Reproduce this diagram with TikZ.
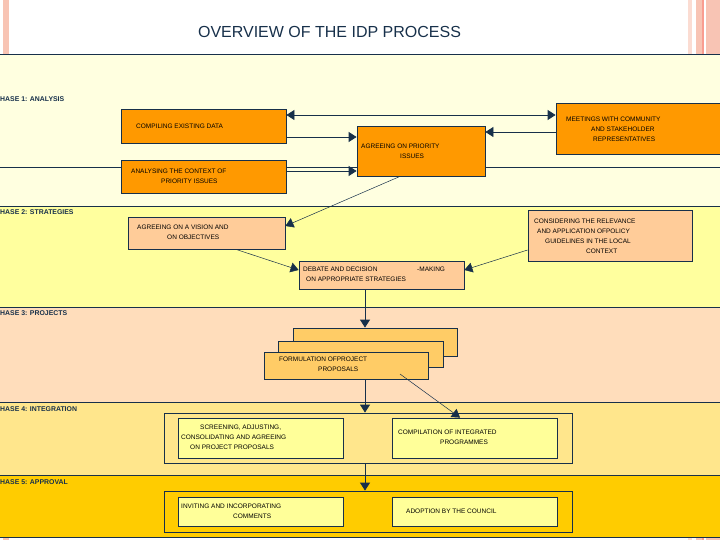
\documentclass[tikz,border=0pt]{standalone}
\usepackage{fontspec}
\setmainfont{Liberation Sans}
\usepackage{xcolor}
\usetikzlibrary{arrows.meta,positioning,calc}
\definecolor{navy}{HTML}{17304A}
\definecolor{creamc}{HTML}{FFFFE0}
\definecolor{stratc}{HTML}{FFFF9E}
\definecolor{projc}{HTML}{FFDDBB}
\definecolor{integc}{HTML}{FFE68C}
\definecolor{apprc}{HTML}{FFCC00}
\definecolor{orangec}{HTML}{FF9900}
\definecolor{peachc}{HTML}{FFCC99}
\definecolor{stackc}{HTML}{FFCC66}
\definecolor{lightc}{HTML}{FFFF99}
\definecolor{pinkc}{HTML}{F8C4B4}
\tikzset{
  ar/.style={->,>={Triangle[length=8pt,width=10pt]},navy,line width=0.8pt},
  box/.style={draw=navy,line width=0.8pt,inner sep=0pt},
  txt/.style={font=\fontsize{6.5}{10}\selectfont,inner sep=0pt,align=left,anchor=base west,text=black},
  phs/.style={font=\bfseries\fontsize{6.9}{8}\selectfont,inner sep=0pt,anchor=west,text=navy}
}
\begin{document}
\begin{tikzpicture}[x=1pt,y=-1pt]
\useasboundingbox (0,0) rectangle (720,540);
\clip (0,0) rectangle (720,540);
\foreach \a/\b/\c in {54/206/creamc,206/307/stratc,307/402/projc,402/475/integc,475/537/apprc}
  \fill[\c] (0,\a) rectangle (720,\b);
\foreach \a/\b/\c in {3/9/pinkc,688/692/pinkc!60,696/702/pinkc,702/704/pinkc!80!red,706/720/pinkc}{
  \fill[\c] (\a,0) rectangle (\b,54);
  \fill[\c] (\a,537) rectangle (\b,540);}
\foreach \y in {54,167,206,307,402,475,537} \draw[navy,line width=0.8pt] (0,\y) -- (720,\y);
\node[font=\fontsize{16}{18}\selectfont,text=navy] (title) at (329.5,32) {OVERVIEW OF THE IDP PROCESS};
\foreach \y/\t [count=\i] in {99/HASE 1: ANALYSIS,212/HASE 2: STRATEGIES,313/HASE 3: PROJECTS,409/HASE 4: INTEGRATION,482/HASE 5: APPROVAL}
  \node[phs] (phase\i) at (0,\y) {\t};
\foreach \n/\a/\b/\c/\d/\f in {comp/121/109/286/143/orangec,meet/556/103/730/154/orangec,agree/357/126/485/176/orangec,anal/121/160/286/193/orangec,
  vision/128/217/285/249/peachc,consid/528/210/692/261/peachc,debate/299/261/464/289/peachc,
  back/293/328/457/356/stackc,mid/278/341/443/367/stackc,formu/264/352/428/379/stackc,
  integ/164/413/572/463/integc,scr/178/418/343/458/lightc,compil/392/418/557/458/lightc,
  approv/164/491/572/532/apprc,invit/178/497/343/526/lightc,adopt/392/497/557/526/lightc}
  \node[box,fill=\f,minimum width={\c-\a},minimum height={\d-\b}] (\n) at ({(\a+\c)/2},{(\b+\d)/2}) {};
\node[txt] (t-comp) at (136,128.3) {COMPILING EXISTING DATA};
\node[txt] (t-meet) at (566,141.3) {MEETINGS WITH COMMUNITY\\\hspace*{25pt}AND STAKEHOLDER\\\hspace*{27pt}REPRESENTATIVES};
\node[txt] (t-agree) at (361,158.3) {AGREEING ON PRIORITY\\\hspace*{39pt}ISSUES};
\node[txt] (t-anal) at (131,183.3) {ANALYSING THE CONTEXT OF\\\hspace*{30pt}PRIORITY ISSUES};
\node[txt] (t-vision) at (137,239.3) {AGREEING ON A VISION AND\\\hspace*{30pt}ON OBJECTIVES};
\node[txt] (t-consid) at (534,253.3) {CONSIDERING THE RELEVANCE\\\hspace*{3pt}AND APPLICATION OFPOLICY\\\hspace*{11pt}GUIDELINES IN THE LOCAL\\\hspace*{52pt}CONTEXT};
\node[txt] (t-debate) at (303,281.3) {\makebox[114pt][l]{DEBATE AND DECISION}-MAKING\\\hspace*{3pt}ON APPROPRIATE STRATEGIES};
\node[txt] (t-formu) at (279,371.3) {FORMULATION OFPROJECT\\\hspace*{39pt}PROPOSALS};
\node[txt] (t-scr) at (181,449.8) {\hspace*{19pt}SCREENING, ADJUSTING,\\CONSOLIDATING AND AGREEING\\\hspace*{9pt}ON PROJECT PROPOSALS};
\node[txt] (t-compil) at (398,444.3) {COMPILATION OF INTEGRATED\\\hspace*{42pt}PROGRAMMES};
\node[txt] (t-invit) at (181,518.3) {INVITING AND INCORPORATING\\\hspace*{52pt}COMMENTS};
\node[txt] (t-adopt) at (406,513.3) {ADOPTION BY THE COUNCIL};
\draw[ar,<->] (comp.east |- 0,115) -- (meet.west |- 0,115);
\draw[ar] (comp.east |- 0,137) -- (agree.west |- 0,137);
\draw[ar] (meet.west |- 0,132) -- (agree.east |- 0,132);
\draw[ar] (anal.east |- 0,171) -- (agree.west |- 0,171);
\draw[ar,line width=0.5pt] (agree.south -| 400,0) -- (vision.east |- 0,226);
\draw[ar,line width=0.5pt] (vision.south -| 236,0) -- (debate.west |- 0,270);
\draw[ar,line width=0.5pt] (consid.west |- 0,250) -- (debate.east |- 0,270);
\draw[ar] (debate.south -| 365,0) -- (back.north -| 365,0);
\draw[ar] (formu.south -| 365,0) -- (integ.north -| 365,0);
\draw[ar] (integ.south -| 365,0) -- (approv.north -| 365,0);
\coordinate (fstart) at (400,374);
\draw[ar,line width=0.5pt] (fstart) -- (compil.north -| 460,0);
\end{tikzpicture}
\end{document}
